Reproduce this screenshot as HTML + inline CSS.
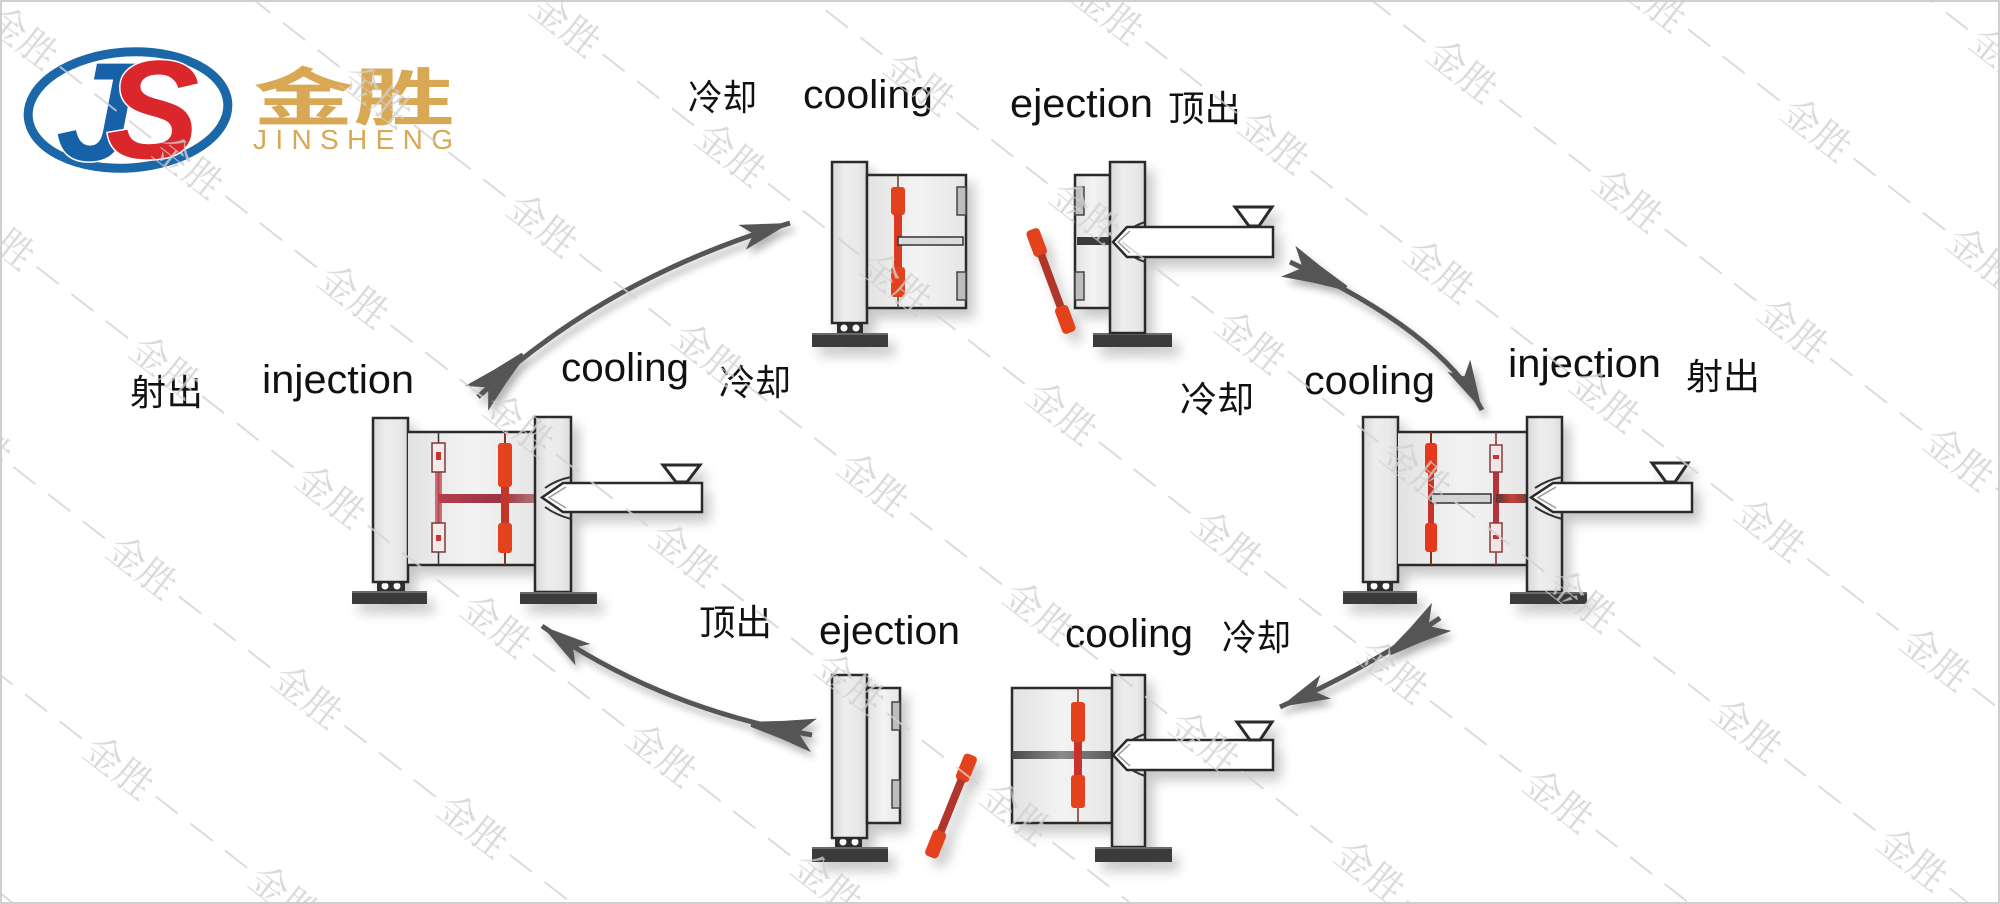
<!DOCTYPE html>
<html><head><meta charset="utf-8">
<style>
html,body{margin:0;padding:0;background:#fff;}
body{width:2000px;height:904px;overflow:hidden;}
svg{display:block;}
.lbl{font-family:"Liberation Sans","Noto Sans CJK SC",sans-serif;fill:#111;}
.cjk{font-family:"Liberation Sans","Noto Sans CJK SC",sans-serif;fill:#111;}
</style></head><body>
<svg width="2000" height="904" viewBox="0 0 2000 904" xmlns="http://www.w3.org/2000/svg">
<defs>
 <filter id="sh" x="-20%" y="-20%" width="150%" height="150%">
  <feGaussianBlur in="SourceAlpha" stdDeviation="6"/>
  <feOffset dx="7" dy="9" result="o"/>
  <feComponentTransfer><feFuncA type="linear" slope="0.22"/></feComponentTransfer>
  <feMerge><feMergeNode/><feMergeNode in="SourceGraphic"/></feMerge>
 </filter>
 <filter id="ash" x="-20%" y="-20%" width="150%" height="150%">
  <feGaussianBlur in="SourceAlpha" stdDeviation="4"/>
  <feOffset dx="4" dy="6" result="o"/>
  <feComponentTransfer><feFuncA type="linear" slope="0.3"/></feComponentTransfer>
  <feMerge><feMergeNode/><feMergeNode in="SourceGraphic"/></feMerge>
 </filter>
 <linearGradient id="pl" x1="0" y1="0" x2="1" y2="0">
  <stop offset="0" stop-color="#d8d8d8"/><stop offset="0.35" stop-color="#ededed"/>
  <stop offset="0.75" stop-color="#e9e9e9"/><stop offset="1" stop-color="#dadada"/>
 </linearGradient>
 <linearGradient id="md" x1="0" y1="0" x2="1" y2="0">
  <stop offset="0" stop-color="#e2e2e2"/><stop offset="0.5" stop-color="#f3f3f3"/><stop offset="1" stop-color="#e6e6e6"/>
 </linearGradient>
 <linearGradient id="rnA" x1="0" y1="0" x2="1" y2="0">
  <stop offset="0" stop-color="#b4404c"/><stop offset="0.6" stop-color="#9a3444"/><stop offset="1" stop-color="#b88080"/>
 </linearGradient>
 <linearGradient id="rnC" x1="0" y1="0" x2="1" y2="0">
  <stop offset="0" stop-color="#5a3434"/><stop offset="0.4" stop-color="#c4443a"/><stop offset="1" stop-color="#4a3a3a"/>
 </linearGradient>
 <linearGradient id="chD" x1="0" y1="0" x2="1" y2="0">
  <stop offset="0" stop-color="#4a4a4a"/><stop offset="0.5" stop-color="#8a8a8a"/><stop offset="1" stop-color="#5a5a5a"/>
 </linearGradient>
 <pattern id="wm" width="210" height="344" patternUnits="userSpaceOnUse" patternTransform="translate(1747,730) rotate(38) translate(-105,-86)">
  <g stroke="#d2d2d2" stroke-width="2">
   <line x1="152" y1="86" x2="180" y2="86"/><line x1="196" y1="86" x2="210" y2="86"/>
   <line x1="0" y1="86" x2="14" y2="86"/><line x1="30" y1="86" x2="58" y2="86"/>
   <line x1="47" y1="258" x2="75" y2="258"/><line x1="91" y1="258" x2="119" y2="258"/><line x1="135" y1="258" x2="163" y2="258"/>
  </g>
  <g font-family="Noto Serif CJK SC, Noto Sans CJK SC, serif" font-size="38" fill="#d0d0d0" text-anchor="middle">
   <text x="105" y="99">金胜</text>
   <text x="0" y="271">金胜</text>
   <text x="210" y="271">金胜</text>
  </g>
 </pattern>
</defs>

<rect x="0" y="0" width="2000" height="904" fill="#fff"/>

<!-- ===== LOGO ===== -->
<g>
 <ellipse cx="128" cy="110" rx="100" ry="58" fill="none" stroke="#1b67a8" stroke-width="9" transform="rotate(-4 128 110)"/>
 <text x="56" y="160" font-family="Liberation Sans, sans-serif" font-weight="bold" font-style="italic" font-size="140" fill="#1661a8" stroke="#fff" stroke-width="3" paint-order="stroke">J</text>
 <text x="106" y="158" font-family="Liberation Sans, sans-serif" font-weight="bold" font-style="italic" font-size="140" fill="#d9272b" stroke="#fff" stroke-width="3" paint-order="stroke">S</text>
 <text transform="translate(253,120) scale(1.6,1)" font-family="Noto Sans CJK SC, sans-serif" font-weight="bold" font-size="63" fill="#d8a855">金胜</text>
 <text x="253" y="149" font-family="Liberation Sans, sans-serif" font-size="28" fill="#d8a855" textLength="200" lengthAdjust="spacing">JINSHENG</text>
</g>

<!-- ===== MACHINE A (left, injection) ===== -->
<g filter="url(#sh)">
 <rect x="352" y="591" width="75" height="13" fill="#3b3b3b"/>
 <rect x="352" y="591" width="75" height="2" fill="#6a6a6a"/>
 <rect x="377" y="581" width="28" height="10" fill="#2e2e2e"/>
 <circle cx="385" cy="586" r="3.5" fill="#fff"/><circle cx="397" cy="586" r="3.5" fill="#fff"/>
 <rect x="373" y="418" width="35" height="164" fill="url(#pl)" stroke="#2a2a2a" stroke-width="2.5"/>
 <rect x="408" y="432" width="127" height="133" fill="url(#md)"/>
 <line x1="408" y1="432" x2="535" y2="432" stroke="#2a2a2a" stroke-width="2.5"/>
 <line x1="408" y1="565" x2="535" y2="565" stroke="#2a2a2a" stroke-width="2.5"/>
 <line x1="438.5" y1="432" x2="438.5" y2="565" stroke="#333" stroke-width="1.5"/>
 <rect x="435" y="472" width="7" height="51" fill="#c94a55" opacity="0.8"/>
 <rect x="432" y="443" width="13" height="29" fill="#f4eaea" stroke="#7a3a3a" stroke-width="1.5"/>
 <rect x="436" y="452" width="5" height="8" fill="#c33"/>
 <rect x="432" y="523" width="13" height="29" fill="#f4eaea" stroke="#7a3a3a" stroke-width="1.5"/>
 <rect x="436" y="535" width="5" height="6" fill="#c33"/>
 <line x1="505" y1="432" x2="505" y2="565" stroke="#7a3a2a" stroke-width="2"/>
 <rect x="438" y="494" width="104" height="9" fill="url(#rnA)"/>
 <rect x="498" y="443" width="14" height="44" rx="3" fill="#e2421c"/>
 <rect x="501" y="487" width="8" height="36" fill="#c2352a"/>
 <rect x="498" y="523" width="14" height="30" rx="3" fill="#e2421c"/>
 <rect x="535" y="417" width="36" height="175" fill="url(#pl)" stroke="#2a2a2a" stroke-width="2.5"/>
 <rect x="520" y="592" width="77" height="12" fill="#3b3b3b"/>
 <rect x="520" y="592" width="77" height="2" fill="#6a6a6a"/>
 <path d="M571,477 Q556,480 545,488 M571,519 Q556,515 545,507" fill="none" stroke="#333" stroke-width="2"/>
 <path d="M563,483 L702,483 L702,512 L563,512 L542,497.5 Z" fill="#fff" stroke="#2a2a2a" stroke-width="2.5"/>
 <path d="M566,487 L549,497.5 L566,508" fill="none" stroke="#999" stroke-width="1.5"/>
 <polygon points="663,465 700,465 687,482 676,482" fill="#fff" stroke="#2a2a2a" stroke-width="3"/>
</g>

<!-- ===== MACHINE B left (cooling) ===== -->
<g filter="url(#sh)">
 <rect x="812" y="333" width="76" height="14" fill="#3b3b3b"/>
 <rect x="812" y="333" width="76" height="2" fill="#6a6a6a"/>
 <rect x="837" y="322" width="26" height="11" fill="#2e2e2e"/>
 <circle cx="844" cy="328" r="3.5" fill="#fff"/><circle cx="856" cy="328" r="3.5" fill="#fff"/>
 <rect x="832" y="162" width="35" height="161" fill="url(#pl)" stroke="#2a2a2a" stroke-width="2.5"/>
 <rect x="867" y="175" width="99" height="133" fill="url(#md)" stroke="#2a2a2a" stroke-width="2.5"/>
 <rect x="957" y="187" width="9" height="28" fill="#bdbdbd" stroke="#444" stroke-width="1.5"/>
 <rect x="957" y="272" width="9" height="28" fill="#bdbdbd" stroke="#444" stroke-width="1.5"/>
 <line x1="898" y1="175" x2="898" y2="308" stroke="#6a3a2a" stroke-width="1.5"/>
 <rect x="891" y="187" width="14" height="28" rx="3" fill="#e3421c"/>
 <rect x="894" y="213" width="8" height="56" fill="#d83a22"/>
 <rect x="891" y="267" width="14" height="30" rx="3" fill="#e3421c"/>
 <rect x="898" y="237" width="65" height="8" fill="#dcdcdc" stroke="#333" stroke-width="1.5"/>
</g>

<!-- ===== MACHINE B right (ejection) ===== -->
<g filter="url(#sh)">
 <g transform="translate(1051,281) rotate(-20.4)">
  <rect x="-7" y="-55" width="14" height="28" rx="4" fill="#e3421c"/>
  <rect x="-4" y="-28" width="8" height="56" fill="#b0342a"/>
  <rect x="-7" y="27" width="14" height="28" rx="4" fill="#e3421c"/>
 </g>
 <rect x="1093" y="333" width="79" height="14" fill="#3b3b3b"/>
 <rect x="1093" y="333" width="79" height="2" fill="#6a6a6a"/>
 <rect x="1075" y="175" width="35" height="133" fill="url(#md)" stroke="#2a2a2a" stroke-width="2.5"/>
 <rect x="1075" y="187" width="9" height="28" fill="#bdbdbd" stroke="#444" stroke-width="1.5"/>
 <rect x="1075" y="272" width="9" height="28" fill="#bdbdbd" stroke="#444" stroke-width="1.5"/>
 <rect x="1077" y="237" width="33" height="8" fill="#3a3a3a"/>
 <rect x="1110" y="162" width="35" height="171" fill="url(#pl)" stroke="#2a2a2a" stroke-width="2.5"/>
 <path d="M1145,222 Q1133,226 1124,234 M1145,262 Q1133,258 1124,250" fill="none" stroke="#333" stroke-width="2"/>
 <path d="M1127,227 L1273,227 L1273,257 L1127,257 L1113,242 Z" fill="#fff" stroke="#2a2a2a" stroke-width="2.5"/>
 <path d="M1130,231 L1118,242 L1130,253" fill="none" stroke="#999" stroke-width="1.5"/>
 <polygon points="1235,207 1272,207 1259,226 1249,226" fill="#fff" stroke="#2a2a2a" stroke-width="3"/>
</g>

<!-- ===== MACHINE C (right, injection) ===== -->
<g filter="url(#sh)">
 <rect x="1343" y="591" width="74" height="13" fill="#3b3b3b"/>
 <rect x="1343" y="591" width="74" height="2" fill="#6a6a6a"/>
 <rect x="1367" y="581" width="26" height="10" fill="#2e2e2e"/>
 <circle cx="1374" cy="586" r="3.5" fill="#fff"/><circle cx="1386" cy="586" r="3.5" fill="#fff"/>
 <rect x="1363" y="417" width="35" height="165" fill="url(#pl)" stroke="#2a2a2a" stroke-width="2.5"/>
 <rect x="1398" y="432" width="129" height="133" fill="url(#md)"/>
 <line x1="1398" y1="432" x2="1527" y2="432" stroke="#2a2a2a" stroke-width="2.5"/>
 <line x1="1398" y1="565" x2="1527" y2="565" stroke="#2a2a2a" stroke-width="2.5"/>
 <line x1="1431" y1="432" x2="1431" y2="565" stroke="#8a2a20" stroke-width="2"/>
 <rect x="1425" y="443" width="12" height="30" rx="3" fill="#e5381f"/>
 <rect x="1428" y="473" width="6" height="50" fill="#c8302a"/>
 <rect x="1425" y="523" width="12" height="29" rx="3" fill="#e5381f"/>
 <rect x="1431" y="494" width="60" height="9" fill="#d4d4d4" stroke="#333" stroke-width="1.5"/>
 <line x1="1496" y1="432" x2="1496" y2="565" stroke="#7a3030" stroke-width="1.5"/>
 <rect x="1493" y="472" width="6" height="51" fill="#b8323a"/>
 <rect x="1490" y="445" width="12" height="27" fill="#f3e6e6" stroke="#8a3a3a" stroke-width="1.5"/>
 <rect x="1493" y="455" width="6" height="4" fill="#c33"/>
 <rect x="1490" y="523" width="12" height="29" fill="#f3e6e6" stroke="#8a3a3a" stroke-width="1.5"/>
 <rect x="1493" y="535" width="6" height="4" fill="#c33"/>
 <rect x="1496" y="494" width="40" height="9" fill="url(#rnC)"/>
 <rect x="1527" y="417" width="35" height="175" fill="url(#pl)" stroke="#2a2a2a" stroke-width="2.5"/>
 <rect x="1510" y="592" width="77" height="12" fill="#3b3b3b"/>
 <rect x="1510" y="592" width="77" height="2" fill="#6a6a6a"/>
 <path d="M1562,477 Q1547,480 1535,488 M1562,519 Q1547,515 1535,507" fill="none" stroke="#333" stroke-width="2"/>
 <path d="M1553,483 L1692,483 L1692,512 L1553,512 L1531,497.5 Z" fill="#fff" stroke="#2a2a2a" stroke-width="2.5"/>
 <path d="M1556,487 L1538,497.5 L1556,508" fill="none" stroke="#999" stroke-width="1.5"/>
 <polygon points="1652,463 1688,463 1675,482 1666,482" fill="#fff" stroke="#2a2a2a" stroke-width="3"/>
</g>

<!-- ===== MACHINE D left (ejection) ===== -->
<g filter="url(#sh)">
 <rect x="812" y="847" width="76" height="15" fill="#3b3b3b"/>
 <rect x="812" y="847" width="76" height="2" fill="#6a6a6a"/>
 <rect x="835" y="837" width="27" height="10" fill="#2e2e2e"/>
 <circle cx="843" cy="842" r="3.5" fill="#fff"/><circle cx="855" cy="842" r="3.5" fill="#fff"/>
 <rect x="832" y="675" width="35" height="163" fill="url(#pl)" stroke="#2a2a2a" stroke-width="2.5"/>
 <rect x="867" y="688" width="33" height="135" fill="url(#md)" stroke="#2a2a2a" stroke-width="2.5"/>
 <rect x="892" y="702" width="8" height="28" fill="#bdbdbd" stroke="#444" stroke-width="1.5"/>
 <rect x="892" y="780" width="8" height="28" fill="#bdbdbd" stroke="#444" stroke-width="1.5"/>
 <g transform="translate(951,806) rotate(22)">
  <rect x="-7" y="-55" width="14" height="28" rx="4" fill="#e3421c"/>
  <rect x="-4" y="-28" width="8" height="56" fill="#b0342a"/>
  <rect x="-7" y="27" width="14" height="28" rx="4" fill="#e3421c"/>
 </g>
</g>

<!-- ===== MACHINE D right (cooling) ===== -->
<g filter="url(#sh)">
 <rect x="1012" y="688" width="100" height="135" fill="url(#md)" stroke="#2a2a2a" stroke-width="2.5"/>
 <rect x="1012" y="751" width="100" height="8" fill="url(#chD)"/>
 <line x1="1078" y1="688" x2="1078" y2="823" stroke="#7a3020" stroke-width="1.5"/>
 <rect x="1071" y="702" width="14" height="40" rx="3" fill="#e3421c"/>
 <rect x="1074" y="742" width="8" height="33" fill="#c8302a"/>
 <rect x="1071" y="775" width="14" height="33" rx="3" fill="#e3421c"/>
 <rect x="1112" y="675" width="33" height="172" fill="url(#pl)" stroke="#2a2a2a" stroke-width="2.5"/>
 <rect x="1095" y="847" width="77" height="15" fill="#3b3b3b"/>
 <rect x="1095" y="847" width="77" height="2" fill="#6a6a6a"/>
 <path d="M1145,734 Q1133,738 1124,746 M1145,776 Q1133,772 1124,764" fill="none" stroke="#333" stroke-width="2"/>
 <path d="M1127,740 L1273,740 L1273,770 L1127,770 L1113,755 Z" fill="#fff" stroke="#2a2a2a" stroke-width="2.5"/>
 <path d="M1130,744 L1118,755 L1130,766" fill="none" stroke="#999" stroke-width="1.5"/>
 <polygon points="1237,722 1272,722 1260,740 1250,740" fill="#fff" stroke="#2a2a2a" stroke-width="3"/>
</g>

<!-- ===== ARROWS ===== -->
<g filter="url(#ash)" fill="#555" stroke="none">
 <path d="M478,397 Q605,278 790,223" fill="none" stroke="#555" stroke-width="5"/>
 <polygon transform="translate(790,223) rotate(-16.6)" points="0,0 -50,-13 -38,0 -50,13"/>
 <polygon transform="translate(478,397) rotate(-43.1)" points="-2,-17 30,-9 62,-2.5 62,2.5 30,9 -2,17 14,0"/>
 <path d="M1290,262 Q1441,332 1482,410" fill="none" stroke="#555" stroke-width="5"/>
 <polygon transform="translate(1482,410) rotate(62.3)" points="0,0 -50,-13 -38,0 -50,13"/>
 <polygon transform="translate(1290,262) rotate(24.9)" points="-2,-17 30,-9 62,-2.5 62,2.5 30,9 -2,17 14,0"/>
 <path d="M1440,618 Q1368,668 1280,707" fill="none" stroke="#555" stroke-width="5"/>
 <polygon transform="translate(1280,707) rotate(156.1)" points="0,0 -50,-13 -38,0 -50,13"/>
 <polygon transform="translate(1440,618) rotate(145.2)" points="-2,-17 30,-9 62,-2.5 62,2.5 30,9 -2,17 14,0"/>
 <path d="M812,735 Q659,708 542,626" fill="none" stroke="#555" stroke-width="5"/>
 <polygon transform="translate(542,626) rotate(215)" points="0,0 -50,-13 -38,0 -50,13"/>
 <polygon transform="translate(812,735) rotate(190)" points="-2,-17 30,-9 62,-2.5 62,2.5 30,9 -2,17 14,0"/>
</g>

<!-- ===== LABELS ===== -->
<g class="lbl" font-size="40">
 <text x="803" y="108" textLength="130" lengthAdjust="spacingAndGlyphs">cooling</text>
 <text x="1010" y="117" textLength="143" lengthAdjust="spacingAndGlyphs">ejection</text>
 <text x="262" y="393" textLength="152" lengthAdjust="spacingAndGlyphs">injection</text>
 <text x="561" y="381" textLength="128" lengthAdjust="spacingAndGlyphs">cooling</text>
 <text x="1304" y="394" textLength="131" lengthAdjust="spacingAndGlyphs">cooling</text>
 <text x="1508" y="377" textLength="153" lengthAdjust="spacingAndGlyphs">injection</text>
 <text x="819" y="644" textLength="141" lengthAdjust="spacingAndGlyphs">ejection</text>
 <text x="1065" y="647" textLength="128" lengthAdjust="spacingAndGlyphs">cooling</text>
</g>
<g class="cjk" font-size="36">
 <text x="688" y="110" textLength="69" lengthAdjust="spacingAndGlyphs">冷却</text>
 <text x="1168" y="121" textLength="73" lengthAdjust="spacingAndGlyphs">顶出</text>
 <text x="130" y="405" textLength="73" lengthAdjust="spacingAndGlyphs">射出</text>
 <text x="719" y="395" textLength="72" lengthAdjust="spacingAndGlyphs">冷却</text>
 <text x="1180" y="412" textLength="74" lengthAdjust="spacingAndGlyphs">冷却</text>
 <text x="1686" y="389" textLength="74" lengthAdjust="spacingAndGlyphs">射出</text>
 <text x="699" y="635" textLength="73" lengthAdjust="spacingAndGlyphs">顶出</text>
 <text x="1222" y="650" textLength="69" lengthAdjust="spacingAndGlyphs">冷却</text>
</g>

<!-- ===== WATERMARK ===== -->
<rect x="0" y="0" width="2000" height="904" fill="url(#wm)" opacity="0.8"/>

<!-- border -->
<rect x="1" y="1" width="1998" height="902" fill="none" stroke="#cfcfcf" stroke-width="2"/>
</svg>
</body></html>
